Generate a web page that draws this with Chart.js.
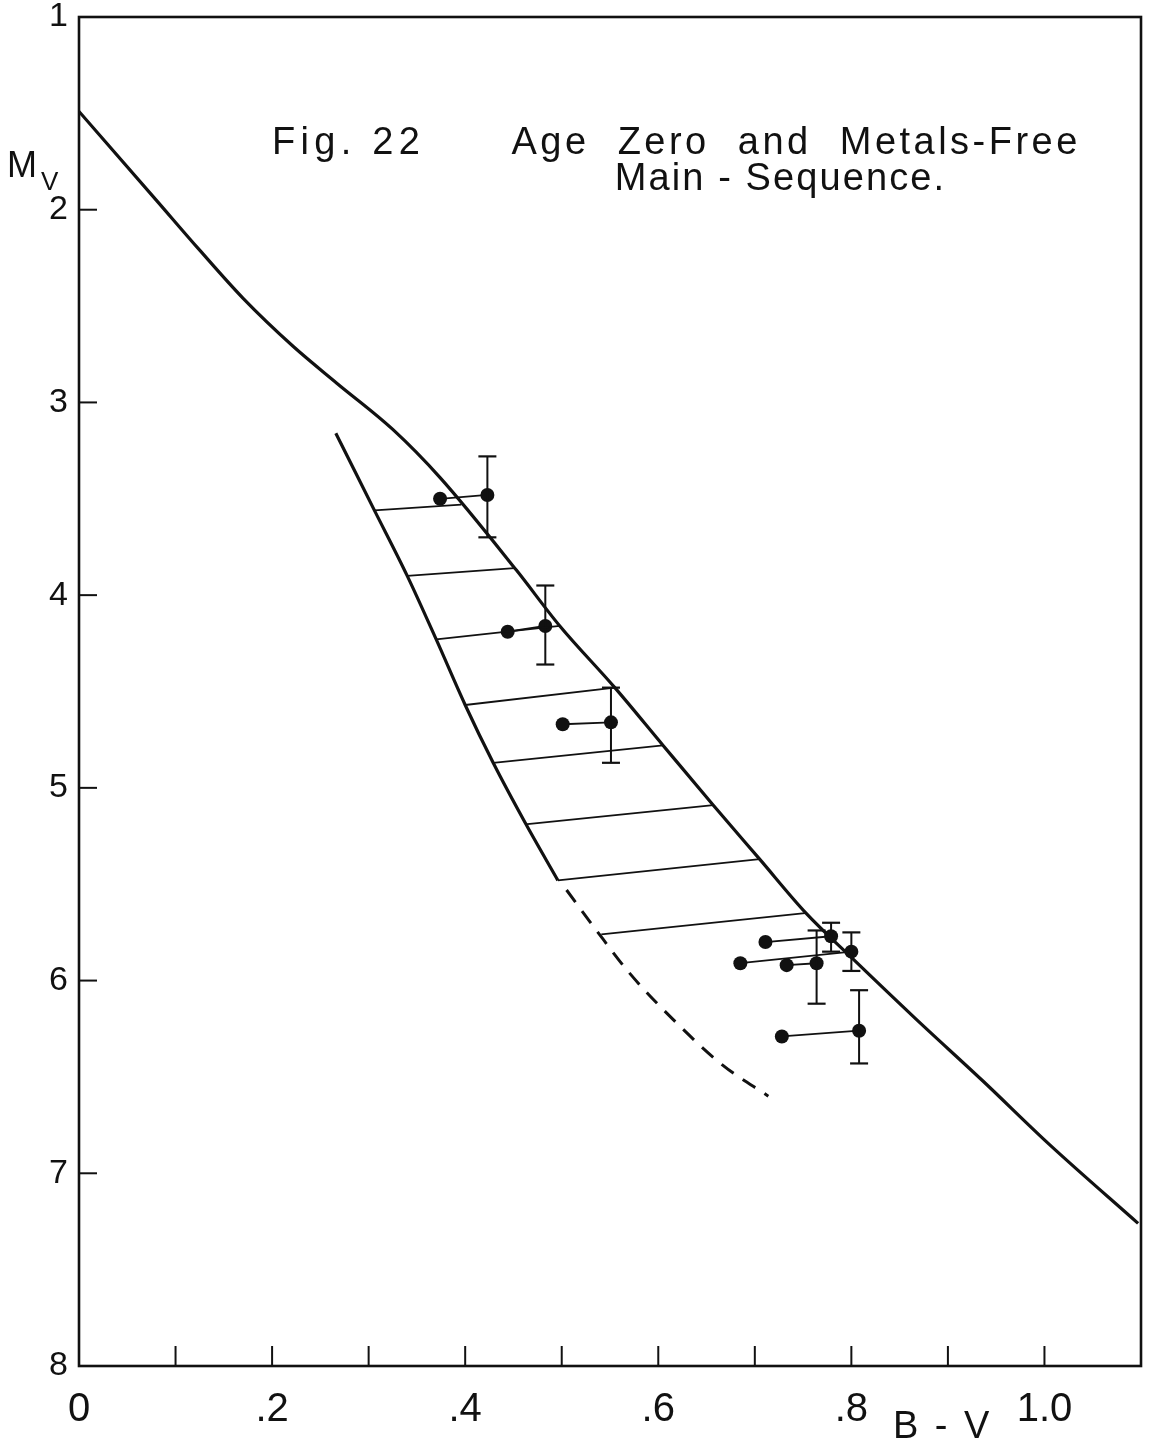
<!DOCTYPE html>
<html>
<head>
<meta charset="utf-8">
<script src="https://cdn.jsdelivr.net/npm/chart.js@4.4.1/dist/chart.umd.min.js"></script>
<style>
  html, body { margin: 0; padding: 0; background: #fff; }
  #wrap { width: 1168px; height: 1448px; }
</style>
</head>
<body>
<div id="wrap"><canvas id="msChart" width="1168" height="1448"></canvas></div>
<script>
// age zero, metals-free main sequence (upper solid curve)
const zamsBV = [0.00, 0.08, 0.125, 0.17, 0.222, 0.267, 0.325, 0.374, 0.453, 0.498, 0.555, 0.605, 0.657, 0.705, 0.753, 0.80, 0.867, 0.936, 1.005, 1.097];
const zamsMv = [1.49, 1.95, 2.21, 2.46, 2.71, 2.90, 3.14, 3.39, 3.87, 4.16, 4.48, 4.78, 5.09, 5.37, 5.65, 5.88, 6.20, 6.52, 6.85, 7.26];

// left boundary, solid part and dashed continuation
const edgeBV = [0.266, 0.306, 0.340, 0.370, 0.400, 0.429, 0.462, 0.496];
const edgeMv = [3.16, 3.56, 3.90, 4.23, 4.57, 4.87, 5.18, 5.48];
const dashBV = [0.505, 0.536, 0.570, 0.615, 0.667, 0.714];
const dashMv = [5.53, 5.74, 5.96, 6.20, 6.44, 6.60];

// cross lines between the two curves
const crossFromBV = [0.306, 0.340, 0.370, 0.400, 0.429, 0.462, 0.496, 0.541];
const crossFromMv = [3.56, 3.90, 4.23, 4.57, 4.87, 5.19, 5.48, 5.76];
const crossToBV = [0.396, 0.451, 0.498, 0.555, 0.605, 0.657, 0.705, 0.752];
const crossToMv = [3.53, 3.86, 4.16, 4.48, 4.78, 5.09, 5.37, 5.65];

// stars: left dot joined to right dot, right dot carries the error bar
const starLeftBV = [0.374, 0.444, 0.501, 0.711, 0.685, 0.733, 0.728];
const starLeftMv = [3.50, 4.19, 4.67, 5.80, 5.91, 5.92, 6.29];
const starRightBV = [0.423, 0.483, 0.551, 0.779, 0.800, 0.764, 0.808];
const starRightMv = [3.48, 4.16, 4.66, 5.77, 5.85, 5.91, 6.26];
const errTopMv = [3.28, 3.95, 4.48, 5.70, 5.75, 5.74, 6.05];
const errBottomMv = [3.70, 4.36, 4.87, 5.85, 5.95, 6.12, 6.43];

const xTicks = [0, 0.2, 0.4, 0.6, 0.8, 1.0];
const xTickLabels = ["0", ".2", ".4", ".6", ".8", "1.0"];
const xMinorTicks = [0.1, 0.2, 0.3, 0.4, 0.5, 0.6, 0.7, 0.8, 0.9, 1.0];
const yTicks = [1, 2, 3, 4, 5, 6, 7, 8];
const yMinorTicks = [2, 3, 4, 5, 6, 7];

const INK = "#111";
const FONT = '"Liberation Sans", Arial, sans-serif';

const pts = (xs, ys) => xs.map((x, i) => ({ x, y: ys[i] }));

const datasets = [];
datasets.push({ data: pts(zamsBV, zamsMv), showLine: true, borderColor: INK, borderWidth: 3.2, pointRadius: 0, cubicInterpolationMode: "monotone" });
datasets.push({ data: pts(edgeBV, edgeMv), showLine: true, borderColor: INK, borderWidth: 3.2, pointRadius: 0, cubicInterpolationMode: "monotone" });
datasets.push({ data: pts(dashBV, dashMv), showLine: true, borderColor: INK, borderWidth: 3, borderDash: [15, 11], pointRadius: 0, cubicInterpolationMode: "monotone" });

crossFromBV.forEach((bv, i) => {
  datasets.push({
    data: [{ x: bv, y: crossFromMv[i] }, { x: crossToBV[i], y: crossToMv[i] }],
    showLine: true, borderColor: INK, borderWidth: 1.8, pointRadius: 0
  });
});

starLeftBV.forEach((bv, i) => {
  // error bar with caps
  datasets.push({
    data: [{ x: starRightBV[i], y: errTopMv[i] }, { x: starRightBV[i], y: errBottomMv[i] }],
    showLine: true, borderColor: INK, borderWidth: 2, pointStyle: "line",
    pointRadius: 9, pointBorderWidth: 2.2, pointBorderColor: INK
  });
  // the pair of dots and the line joining them
  datasets.push({
    data: [{ x: bv, y: starLeftMv[i] }, { x: starRightBV[i], y: starRightMv[i] }],
    showLine: true, borderColor: INK, borderWidth: 1.8,
    pointRadius: 7, pointBackgroundColor: INK, pointBorderColor: INK, pointBorderWidth: 0
  });
});

function spaced(ctx, text, x0, x1, y) {
  const chars = [...text];
  const widths = chars.map((c) => ctx.measureText(c).width);
  const total = widths.reduce((a, b) => a + b, 0);
  const gap = chars.length > 1 ? (x1 - x0 - total) / (chars.length - 1) : 0;
  let x = x0;
  chars.forEach((c, i) => { ctx.fillText(c, x, y); x += widths[i] + gap; });
}

const framePlugin = {
  id: "frame",
  afterDatasetsDraw(chart) {
    const { ctx, chartArea: a, scales: { x, y } } = chart;
    ctx.save();
    ctx.strokeStyle = INK;
    ctx.lineWidth = 2.6;
    ctx.strokeRect(a.left, a.top, a.right - a.left, a.bottom - a.top);

    ctx.lineWidth = 2;
    xMinorTicks.forEach((v) => {
      const px = x.getPixelForValue(v);
      ctx.beginPath(); ctx.moveTo(px, a.bottom); ctx.lineTo(px, a.bottom - 20); ctx.stroke();
    });
    yMinorTicks.forEach((v) => {
      const py = y.getPixelForValue(v);
      ctx.beginPath(); ctx.moveTo(a.left, py); ctx.lineTo(a.left + 18, py); ctx.stroke();
    });

    ctx.fillStyle = INK;
    ctx.textAlign = "left";
    ctx.textBaseline = "alphabetic";
    ctx.font = "38px " + FONT;
    const l1 = y.getPixelForValue(1.71);
    const l2 = y.getPixelForValue(1.90);
    spaced(ctx, "Fig. 22", x.getPixelForValue(0.200), x.getPixelForValue(0.353), l1);
    spaced(ctx, "Age  Zero  and  Metals-Free", x.getPixelForValue(0.448), x.getPixelForValue(1.034), l1);
    spaced(ctx, "Main - Sequence.", x.getPixelForValue(0.555), x.getPixelForValue(0.896), l2);

    // axis names
    ctx.font = "36px " + FONT;
    ctx.fillText("M", a.left - 72, y.getPixelForValue(1.83));
    ctx.font = "26px " + FONT;
    ctx.fillText("V", a.left - 38, y.getPixelForValue(1.90));
    ctx.font = "38px " + FONT;
    spaced(ctx, "B - V", x.getPixelForValue(0.843), x.getPixelForValue(0.943), a.bottom + 72);
    ctx.restore();
  }
};

new Chart(document.getElementById("msChart").getContext("2d"), {
  type: "scatter",
  data: { datasets },
  options: {
    responsive: false,
    animation: false,
    layout: { padding: { top: 17, right: 27, left: 0, bottom: 0 } },
    plugins: { legend: { display: false }, tooltip: { enabled: false } },
    scales: {
      x: {
        type: "linear", min: 0, max: 1.1,
        grid: { display: false, drawTicks: false },
        border: { display: false },
        afterBuildTicks: (s) => { s.ticks = xTicks.map((v) => ({ value: v })); },
        afterFit: (s) => { s.height = 82; s.paddingLeft = 0; s.paddingRight = 0; },
        ticks: {
          padding: 20, color: INK, maxRotation: 0, autoSkip: false,
          font: { family: FONT, size: 40 },
          callback: (v) => {
            const i = xTicks.findIndex((t) => Math.abs(t - v) < 1e-6);
            return i >= 0 ? xTickLabels[i] : "";
          }
        }
      },
      y: {
        type: "linear", reverse: true, min: 1, max: 8,
        grid: { display: false, drawTicks: false },
        border: { display: false },
        afterBuildTicks: (s) => { s.ticks = yTicks.map((v) => ({ value: v })); },
        afterFit: (s) => { s.width = 79; s.paddingTop = 0; s.paddingBottom = 0; },
        ticks: { padding: 11, color: INK, font: { family: FONT, size: 34 } }
      }
    }
  },
  plugins: [framePlugin]
});
</script>
</body>
</html>
